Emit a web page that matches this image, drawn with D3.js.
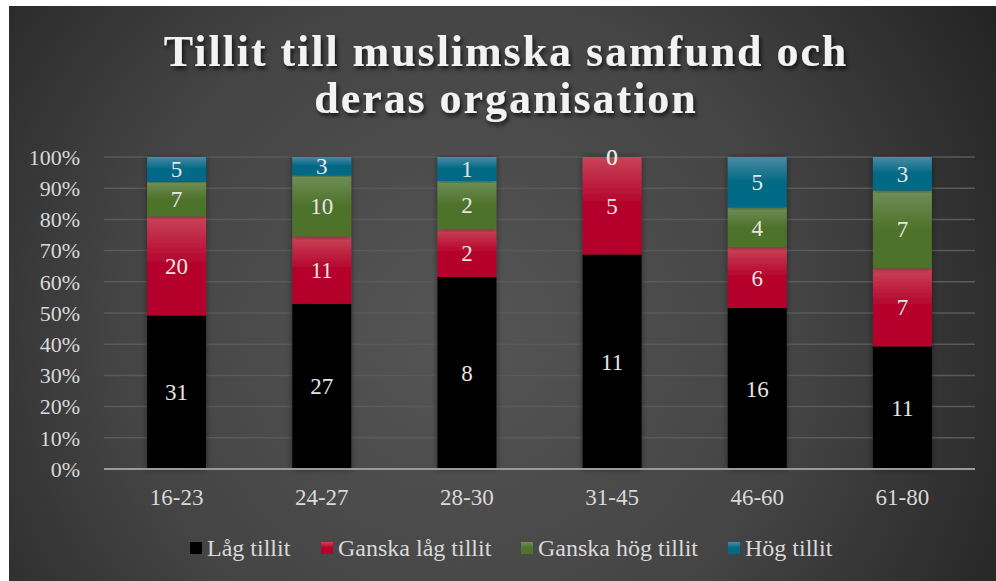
<!DOCTYPE html>
<html>
<head>
<meta charset="utf-8">
<script src="https://cdn.jsdelivr.net/npm/d3@7"></script>
<style>
  body { margin: 0; background: #fff; }
  svg { display: block; font-family: "Liberation Serif", "Times New Roman", serif; }
</style>
</head>
<body>
<div id="chart"></div>
<script>
var categories = ['16-23', '24-27', '28-30', '31-45', '46-60', '61-80'];
var series_names = ['Låg tillit', 'Ganska låg tillit', 'Ganska hög tillit', 'Hög tillit'];
var lag = [31, 27, 8, 11, 16, 11];
var ganska_lag = [20, 11, 2, 5, 6, 7];
var ganska_hog = [7, 10, 2, 0, 4, 7];
var hog = [5, 3, 1, 0, 5, 3];
var y_ticks = [0, 0.1, 0.2, 0.3, 0.4, 0.5, 0.6, 0.7, 0.8, 0.9, 1];
var title_lines = ['Tillit till muslimska samfund och', 'deras organisation'];

var W = 996, H = 581;
var margin = { top: 157, left: 104, right: 21, bottom: 112 };
var width = W - margin.left - margin.right;
var height = H - margin.top - margin.bottom;

var colors = [
  { top: '#000000', bottom: '#000000' },
  { top: '#c84558', bottom: '#b4002a' },
  { top: '#6e8f58', bottom: '#4e722a' },
  { top: '#4a8aa3', bottom: '#006985' }
];

var rows = categories.map((c, i) => {
  var vals = [lag[i], ganska_lag[i], ganska_hog[i], hog[i]];
  var total = d3.sum(vals);
  var r = { cat: c };
  series_names.forEach((s, j) => { r[s] = vals[j] / total; r[s + '_n'] = vals[j]; });
  return r;
});

var stack = d3.stack().keys(series_names)(rows);

var svg = d3.select('#chart').append('svg')
  .attr('width', W)
  .attr('height', H);

var defs = svg.append('defs');

var bg = defs.append('radialGradient')
  .attr('id', 'bg')
  .attr('gradientUnits', 'userSpaceOnUse')
  .attr('cx', 460).attr('cy', 330).attr('r', 620);
bg.append('stop').attr('offset', '0%').attr('stop-color', '#555555');
bg.append('stop').attr('offset', '55%').attr('stop-color', '#444444');
bg.append('stop').attr('offset', '100%').attr('stop-color', '#242424');

colors.forEach((c, i) => {
  var g = defs.append('linearGradient')
    .attr('id', 'grad' + i)
    .attr('x1', 0).attr('y1', 0).attr('x2', 0).attr('y2', 1);
  g.append('stop').attr('offset', '0%').attr('stop-color', c.top);
  g.append('stop').attr('offset', '50%').attr('stop-color', c.bottom);
  g.append('stop').attr('offset', '100%').attr('stop-color', c.bottom);
});

var sh = defs.append('filter').attr('id', 'tshadow')
  .attr('x', '-5%').attr('y', '-20%').attr('width', '110%').attr('height', '150%');
sh.append('feDropShadow')
  .attr('dx', 2).attr('dy', 3).attr('stdDeviation', 2)
  .attr('flood-color', '#000').attr('flood-opacity', 0.7);

var bsh = defs.append('filter').attr('id', 'bshadow')
  .attr('x', '-20%').attr('y', '-5%').attr('width', '140%').attr('height', '110%');
bsh.append('feDropShadow')
  .attr('dx', 0).attr('dy', 0).attr('stdDeviation', 3)
  .attr('flood-color', '#000').attr('flood-opacity', 0.45);

svg.append('rect')
  .attr('x', 9).attr('y', 6)
  .attr('width', W - 9).attr('height', H - 6)
  .attr('fill', 'url(#bg)');

// title
svg.append('g')
  .attr('filter', 'url(#tshadow)')
  .selectAll('text')
  .data(title_lines)
  .join('text')
  .attr('x', 506)
  .attr('y', (d, i) => 66 + i * 47)
  .attr('text-anchor', 'middle')
  .attr('fill', '#f2f2f2')
  .attr('font-size', 44)
  .attr('font-weight', 'bold')
  .attr('letter-spacing', 1.95)
  .text(d => d);

var x = d3.scaleBand()
  .domain(categories)
  .range([0, width])
  .paddingInner(0.594)
  .paddingOuter(0.297);

var y = d3.scaleLinear()
  .domain([0, 1])
  .range([height, 0]);

var gph = svg.append('g')
  .attr('transform', `translate(${ margin.left }, ${ margin.top })`);

// grid
gph.append('g')
  .selectAll('line')
  .data(y_ticks.filter(d => d > 0))
  .join('line')
  .attr('x1', 0).attr('x2', width)
  .attr('y1', d => y(d)).attr('y2', d => y(d))
  .attr('stroke', '#5a5a5a')
  .attr('stroke-width', 1.5);

// y labels
gph.append('g')
  .selectAll('text')
  .data(y_ticks)
  .join('text')
  .attr('x', -24)
  .attr('y', d => y(d))
  .attr('dy', '0.35em')
  .attr('text-anchor', 'end')
  .attr('fill', '#d9d9d9')
  .attr('font-size', 22)
  .text(d => d3.format('.0%')(d));

// bars
var layers = gph.append('g')
  .selectAll('g')
  .data(stack)
  .join('g')
  .attr('fill', (d, i) => `url(#grad${ i })`);

layers.selectAll('rect')
  .data(d => d)
  .join('rect')
  .attr('filter', 'url(#bshadow)')
  .attr('x', d => x(d.data.cat))
  .attr('width', x.bandwidth())
  .attr('y', d => y(d[1]))
  .attr('height', d => y(d[0]) - y(d[1]));

// base axis line
gph.append('line')
  .attr('x1', 0).attr('x2', width)
  .attr('y1', height).attr('y2', height)
  .attr('stroke', '#9a9a9a')
  .attr('stroke-width', 2);

// data labels
stack.forEach((s) => {
  gph.append('g')
    .selectAll('text')
    .data(s)
    .join('text')
    .attr('x', d => x(d.data.cat) + x.bandwidth() / 2)
    .attr('y', d => y((d[0] + d[1]) / 2))
    .attr('dy', '0.35em')
    .attr('text-anchor', 'middle')
    .attr('fill', '#e6e6e6')
    .attr('font-size', 23)
    .text(d => d.data[s.key + '_n']);
});

// x labels
gph.append('g')
  .selectAll('text')
  .data(categories)
  .join('text')
  .attr('x', d => x(d) + x.bandwidth() / 2)
  .attr('y', height + 36)
  .attr('text-anchor', 'middle')
  .attr('fill', '#d9d9d9')
  .attr('font-size', 23)
  .text(d => d);

// legend
var legend_x = [190, 321, 521, 728];
var leg = svg.append('g')
  .selectAll('g')
  .data(series_names)
  .join('g')
  .attr('transform', (d, i) => `translate(${ legend_x[i] }, 548)`);

leg.append('rect')
  .attr('x', 0).attr('y', -6)
  .attr('width', 12).attr('height', 12)
  .attr('fill', (d, i) => `url(#grad${ i })`);

leg.append('text')
  .attr('x', 17)
  .attr('dy', '0.35em')
  .attr('fill', '#d9d9d9')
  .attr('font-size', 24)
  .text(d => d);
</script>
</body>
</html>
